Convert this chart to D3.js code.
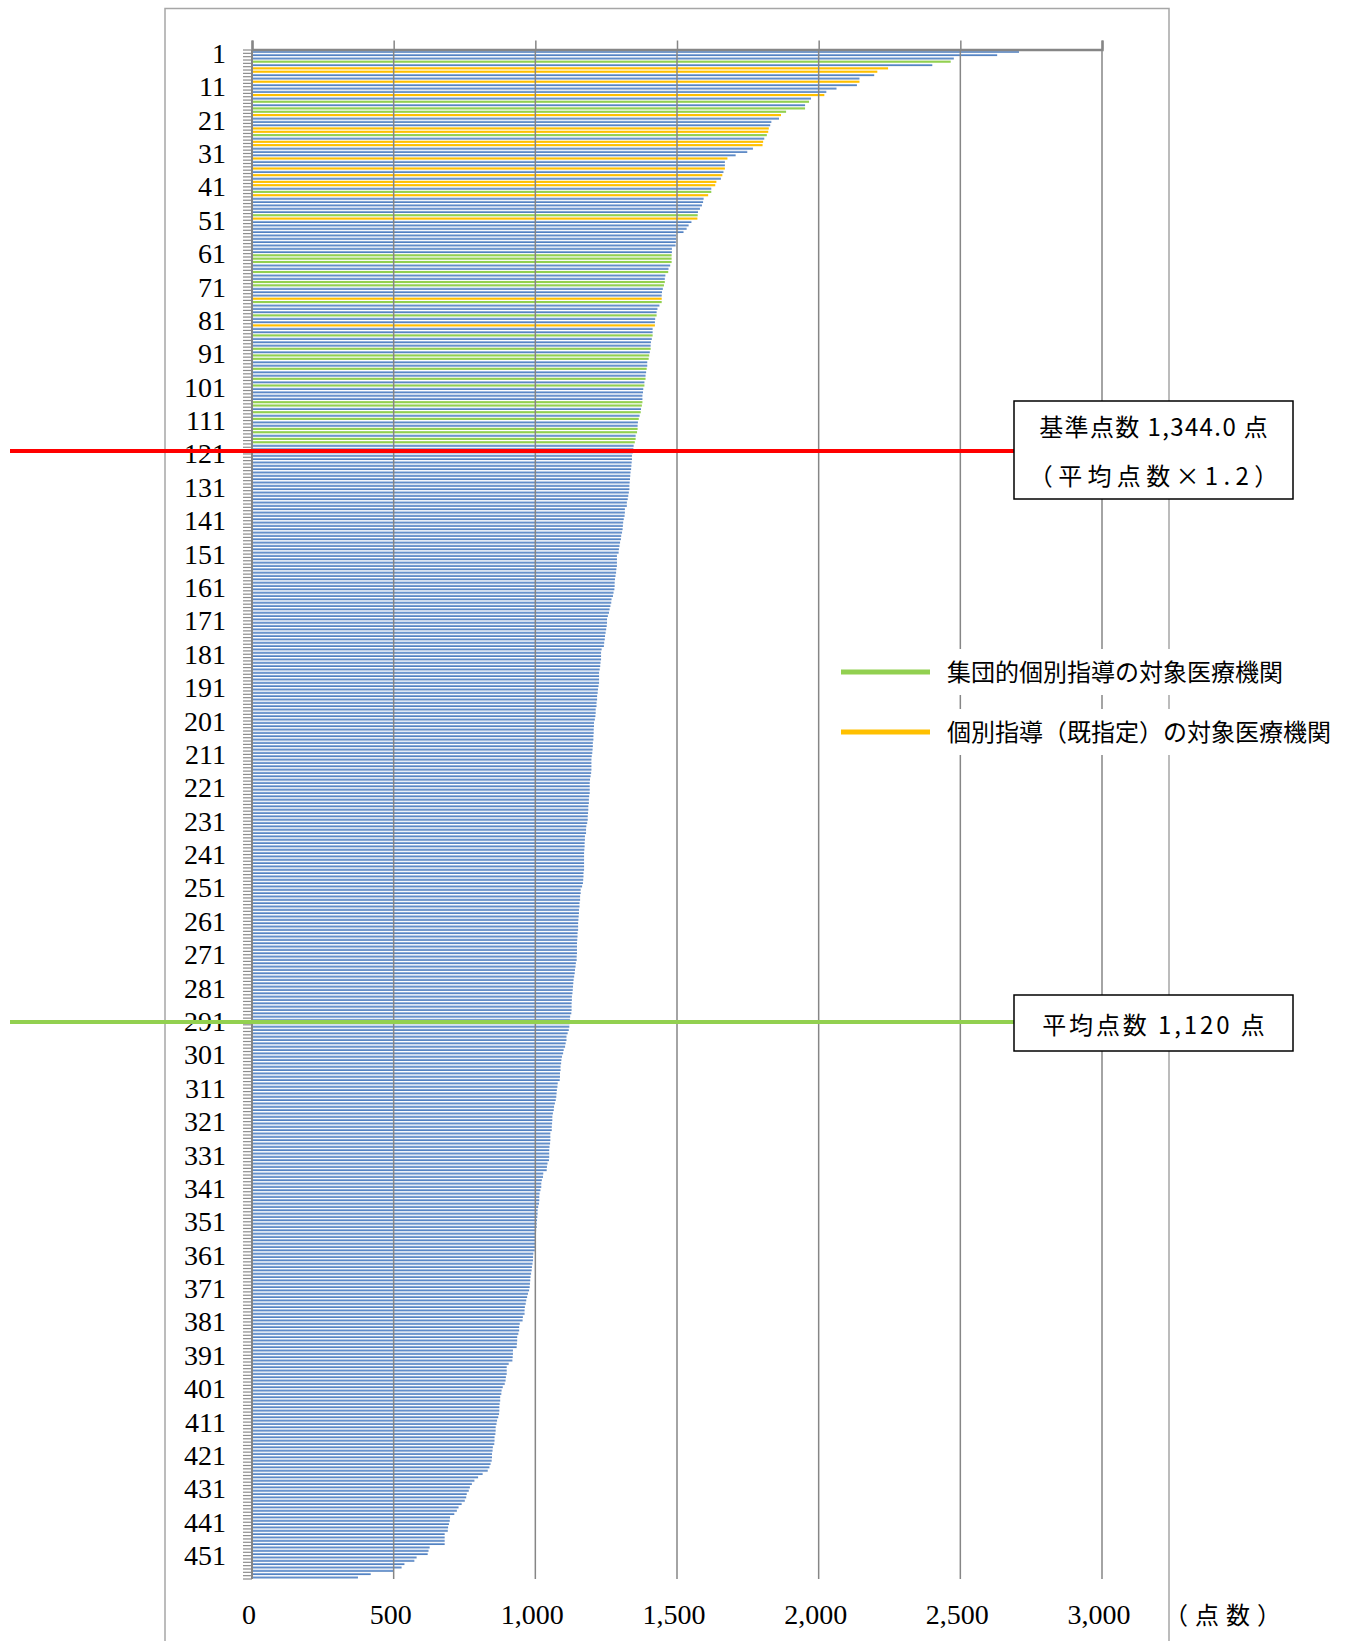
<!DOCTYPE html>
<html>
<head>
<meta charset="utf-8">
<script src="https://cdn.jsdelivr.net/npm/d3@7"></script>
<style>
  body { margin: 0; background: #fff; }
  svg { display: block; }
</style>
</head>
<body>
<script>
'use strict';

// points per medical institution, ranked from highest to lowest
var scores = [
  2707, 2630, 2477, 2466, 2401, 2245, 2207, 2196, 2144, 2144,
  2135, 2063, 2027, 2020, 1973, 1966, 1952, 1952, 1885, 1867,
  1860, 1833, 1829, 1824, 1822, 1817, 1808, 1804, 1802, 1768,
  1748, 1707, 1678, 1669, 1669, 1669, 1664, 1660, 1655, 1639,
  1635, 1621, 1621, 1610, 1594, 1592, 1588, 1581, 1574, 1573,
  1572, 1551, 1541, 1534, 1523, 1497, 1497, 1496, 1495, 1482,
  1482, 1481, 1481, 1481, 1476, 1470, 1469, 1459, 1457, 1457,
  1454, 1450, 1447, 1446, 1446, 1446, 1438, 1431, 1428, 1428,
  1423, 1422, 1422, 1414, 1414, 1414, 1411, 1408, 1407, 1407,
  1404, 1402, 1400, 1395, 1395, 1393, 1391, 1389, 1389, 1385,
  1385, 1381, 1380, 1378, 1378, 1378, 1376, 1373, 1372, 1368,
  1365, 1362, 1361, 1361, 1359, 1354, 1354, 1351, 1347, 1346,
  1344, 1341, 1341, 1340, 1339, 1338, 1336, 1335, 1334, 1333,
  1332, 1332, 1330, 1328, 1326, 1323, 1323, 1316, 1316, 1315,
  1312, 1310, 1309, 1308, 1306, 1303, 1302, 1299, 1297, 1295,
  1294, 1288, 1288, 1288, 1288, 1286, 1285, 1283, 1281, 1280,
  1280, 1279, 1276, 1274, 1269, 1268, 1265, 1262, 1260, 1256,
  1253, 1253, 1252, 1250, 1248, 1246, 1245, 1243, 1242, 1234,
  1232, 1232, 1232, 1230, 1229, 1227, 1225, 1225, 1225, 1225,
  1223, 1221, 1220, 1218, 1218, 1216, 1216, 1213, 1213, 1212,
  1210, 1207, 1207, 1206, 1206, 1205, 1205, 1203, 1203, 1202,
  1201, 1199, 1198, 1198, 1198, 1198, 1197, 1195, 1193, 1192,
  1192, 1192, 1192, 1190, 1189, 1189, 1187, 1187, 1186, 1185,
  1185, 1183, 1180, 1179, 1179, 1175, 1175, 1174, 1174, 1173,
  1172, 1172, 1172, 1172, 1172, 1172, 1170, 1170, 1169, 1168,
  1165, 1160, 1160, 1158, 1158, 1156, 1156, 1154, 1154, 1153,
  1152, 1151, 1151, 1151, 1149, 1149, 1148, 1147, 1147, 1147,
  1147, 1146, 1146, 1143, 1142, 1140, 1139, 1137, 1135, 1134,
  1133, 1132, 1131, 1129, 1129, 1128, 1128, 1128, 1127, 1123,
  1122, 1121, 1120, 1118, 1114, 1110, 1110, 1107, 1105, 1100,
  1098, 1094, 1092, 1091, 1089, 1089, 1087, 1087, 1086, 1079,
  1078, 1076, 1075, 1074, 1072, 1069, 1066, 1065, 1062, 1060,
  1060, 1059, 1058, 1058, 1053, 1053, 1053, 1052, 1050, 1049,
  1049, 1049, 1048, 1043, 1041, 1040, 1028, 1027, 1023, 1021,
  1021, 1018, 1015, 1014, 1014, 1013, 1010, 1008, 1008, 1007,
  1006, 1005, 1005, 1003, 1001, 1000, 1000, 1000, 999, 998,
  993, 992, 992, 990, 988, 987, 985, 983, 982, 981,
  980, 978, 974, 971, 968, 966, 963, 962, 962, 956,
  955, 945, 943, 943, 940, 936, 936, 935, 934, 921,
  921, 920, 919, 906, 899, 899, 899, 896, 895, 892,
  885, 881, 880, 876, 876, 874, 873, 873, 872, 869,
  865, 863, 860, 860, 859, 856, 856, 855, 850, 849,
  847, 847, 846, 842, 838, 832, 814, 798, 785, 776,
  769, 765, 758, 756, 751, 740, 729, 723, 714, 699,
  698, 695, 692, 691, 680, 680, 680, 680, 627, 623,
  620, 581, 573, 538, 528, 499, 419, 374
];

// ranks of the institutions picked for group guidance (green)
var groupRanks = [4, 16, 18, 19, 26, 43, 50, 62, 63, 64, 67, 70, 71, 76, 80,
  86, 90, 92, 93, 96, 99, 101, 106, 107, 109, 111, 114, 115, 117, 118];

// ranks of the institutions already designated for individual guidance (orange)
var priorRanks = [6, 7, 10, 14, 20, 24, 25, 28, 29, 33, 36, 38, 40, 41, 44, 51, 75, 83];

var xTicks = [0, 500, 1000, 1500, 2000, 2500, 3000];
var standardCount = 120;  // institutions at or above 基準点数
var averageCount = 291;   // institutions at or above 平均点数

var legendLabels = ['集団的個別指導の対象医療機関', '個別指導（既指定）の対象医療機関'];
var standardLines = ['基準点数 1,344.0 点', '（平均点数×1.2）'];
var averageLines = ['平均点数 1,120 点'];
var unitLabel = '（点数）';

var colors = {
  group: '#92D050',
  prior: '#FFC000',
  grid: '#868686',
  red: '#FF0000'
};

var width = 1348;
var height = 1641;
var plot = { left: 252, right: 1102, top: 50, bottom: 1579 };
var serif = '"Liberation Serif", "DejaVu Serif", serif';
var sans = '"Noto Sans CJK JP", "Noto Sans", sans-serif';

var ranks = d3.range(1, scores.length + 1);

var x = d3.scaleLinear()
  .domain([0, 3000])
  .range([plot.left, plot.right]);

var y = d3.scaleBand()
  .domain(ranks)
  .range([plot.top, plot.bottom])
  .paddingInner(0.36)
  .paddingOuter(0.18);

//edges between the categories, used for the little tick marks
var yEdge = d3.scaleLinear()
  .domain([0, scores.length])
  .range([plot.top, plot.bottom]);

var svg = d3.select('body').append('svg')
  .attr('width', width)
  .attr('height', height);

var defs = svg.append('defs');
var grad = defs.append('linearGradient')
  .attr('id', 'blueBar')
  .attr('x1', 0).attr('y1', 0)
  .attr('x2', 0).attr('y2', 1);
grad.append('stop').attr('offset', '0%').attr('stop-color', '#a9c3e6');
grad.append('stop').attr('offset', '45%').attr('stop-color', '#6d97d0');
grad.append('stop').attr('offset', '100%').attr('stop-color', '#3e70b3');

//chart area border
svg.append('rect')
  .attr('x', 165)
  .attr('y', 8.5)
  .attr('width', 1004)
  .attr('height', 1700)
  .attr('fill', 'none')
  .attr('stroke', '#a6a6a6')
  .attr('stroke-width', 1.5);

function barColor(rank) {
  if (groupRanks.indexOf(rank) >= 0) return colors.group;
  if (priorRanks.indexOf(rank) >= 0) return colors.prior;
  return 'url(#blueBar)';
}

svg.append('g')
  .selectAll('rect')
  .data(ranks)
  .enter()
  .append('rect')
  .attr('x', x(0))
  .attr('y', function(d) { return y(d); })
  .attr('width', function(d) { return x(scores[d - 1]) - x(0); })
  .attr('height', y.bandwidth())
  .attr('fill', barColor);

//vertical gridlines sit over the thin bars
svg.append('g')
  .selectAll('line')
  .data(xTicks.slice(1))
  .enter()
  .append('line')
  .attr('x1', function(d) { return x(d); })
  .attr('x2', function(d) { return x(d); })
  .attr('y1', plot.top)
  .attr('y2', plot.bottom)
  .attr('stroke', colors.grid)
  .attr('stroke-width', 1.5);

//value axis drawn along the top
var topAxis = svg.append('g')
  .attr('transform', 'translate(0,' + (plot.top - 0.5) + ')')
  .call(d3.axisTop(x).tickValues(xTicks).tickSize(9).tickFormat(''));
topAxis.select('.domain')
  .attr('stroke', colors.grid)
  .attr('stroke-width', 2.5);
topAxis.selectAll('.tick line')
  .attr('stroke', colors.grid)
  .attr('stroke-width', 1.5);

//value labels at the bottom
svg.append('g')
  .selectAll('text')
  .data(xTicks)
  .enter()
  .append('text')
  .attr('x', function(d) { return x(d) - 3; })
  .attr('y', 1624)
  .attr('text-anchor', 'middle')
  .style('font-family', serif)
  .style('font-size', '28px')
  .attr('fill', '#000')
  .text(d3.format(','));

//category axis: short ticks at every boundary
svg.append('g')
  .selectAll('line')
  .data(d3.range(0, scores.length + 1))
  .enter()
  .append('line')
  .attr('x1', x(0) - 9)
  .attr('x2', x(0))
  .attr('y1', function(d) { return yEdge(d); })
  .attr('y2', function(d) { return yEdge(d); })
  .attr('stroke', '#8c8c8c')
  .attr('stroke-width', 1.2);

svg.append('line')
  .attr('x1', x(0))
  .attr('x2', x(0))
  .attr('y1', plot.top)
  .attr('y2', plot.bottom)
  .attr('stroke', colors.grid)
  .attr('stroke-width', 2);

svg.append('g')
  .selectAll('text')
  .data(ranks.filter(function(d) { return (d - 1) % 10 === 0; }))
  .enter()
  .append('text')
  .attr('x', 226)
  .attr('y', function(d) { return y(d) + y.bandwidth() / 2; })
  .attr('dy', '0.4em')
  .attr('text-anchor', 'end')
  .style('font-family', serif)
  .style('font-size', '28px')
  .attr('fill', '#000')
  .text(function(d) { return d; });

//stretch a label so its ink spreads like the original (extra px over natural width)
function stretch(sel, extra) {
  sel.each(function(d, i) {
    var add = Array.isArray(extra) ? extra[i] : extra;
    var len = this.getComputedTextLength();
    d3.select(this)
      .attr('textLength', len + add)
      .attr('lengthAdjust', 'spacing');
  });
}

//cutoff lines with their note boxes
var boxX = 1014;
var boxW = 279;

function cutoff(count, color, lines, boxTop, boxH, extra) {
  var ly = yEdge(count) + 0.5;
  svg.append('line')
    .attr('x1', 10)
    .attr('x2', boxX)
    .attr('y1', ly)
    .attr('y2', ly)
    .attr('stroke', color)
    .attr('stroke-width', 4);

  svg.append('rect')
    .attr('x', boxX)
    .attr('y', boxTop)
    .attr('width', boxW)
    .attr('height', boxH)
    .attr('fill', '#fff')
    .attr('stroke', '#000')
    .attr('stroke-width', 1.5);

  var step = boxH / lines.length;
  svg.append('g')
    .selectAll('text')
    .data(lines)
    .enter()
    .append('text')
    .attr('x', boxX + boxW / 2)
    .attr('y', function(d, i) { return boxTop + step * (i + 0.5) + 2; })
    .attr('dy', '0.36em')
    .attr('text-anchor', 'middle')
    .style('font-family', sans)
    .style('font-size', '24px')
    .attr('fill', '#000')
    .text(function(d) { return d; })
    .call(stretch, extra);
}

cutoff(standardCount, colors.red, standardLines, 401, 98, [18, 48]);
cutoff(averageCount, colors.group, averageLines, 995, 56, [32]);

//legend, each entry has a white background that hides the gridlines
var legend = svg.selectAll('g.legend')
  .data(legendLabels)
  .enter()
  .append('g')
  .attr('class', 'legend')
  .attr('transform', function(d, i) { return 'translate(0,' + (672 + i * 60) + ')'; });

legend.append('rect')
  .attr('x', 832)
  .attr('y', -23)
  .attr('width', 510)
  .attr('height', 46)
  .attr('fill', '#fff');

legend.append('line')
  .attr('x1', 841)
  .attr('x2', 930)
  .attr('y1', 0)
  .attr('y2', 0)
  .attr('stroke', function(d, i) { return i === 0 ? colors.group : colors.prior; })
  .attr('stroke-width', 5);

legend.append('text')
  .attr('x', 947)
  .attr('y', 0)
  .attr('dy', '0.36em')
  .style('font-family', sans)
  .style('font-size', '24px')
  .attr('fill', '#000')
  .text(function(d) { return d; });

svg.append('text')
  .attr('x', 1164)
  .attr('y', 1615)
  .attr('dy', '0.36em')
  .style('font-family', sans)
  .style('font-size', '24px')
  .attr('fill', '#000')
  .text(unitLabel)
  .call(stretch, 21);
</script>
</body>
</html>
